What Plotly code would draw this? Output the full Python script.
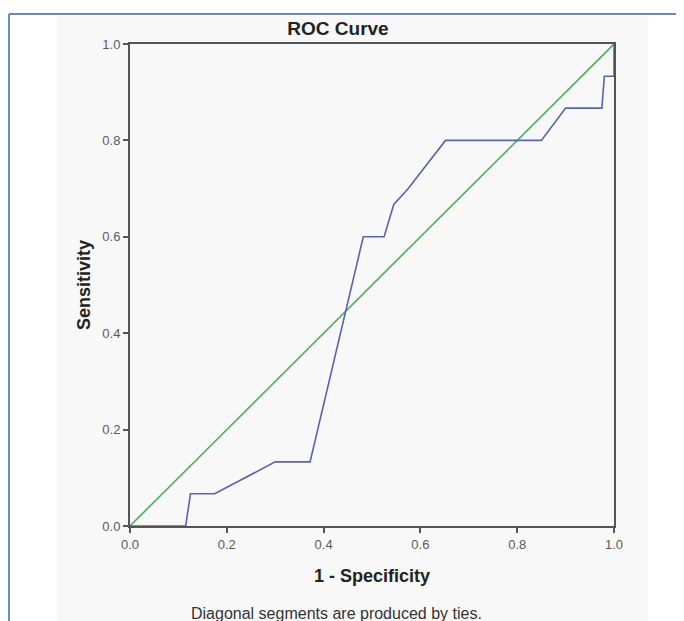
import plotly.graph_objects as go

# ROC curve data (1 - Specificity, Sensitivity)
fpr = [0.0, 0.115, 0.125, 0.175, 0.30, 0.372, 0.482, 0.525, 0.545, 0.575, 0.60, 0.652, 0.85, 0.90, 0.975, 0.98, 1.0, 1.0]
tpr = [0.0, 0.0, 0.067, 0.067, 0.133, 0.133, 0.60, 0.60, 0.667, 0.70, 0.733, 0.80, 0.80, 0.867, 0.867, 0.933, 0.933, 1.0]
ref_x = [0.0, 1.0]
ref_y = [0.0, 1.0]
tick_vals = [0.0, 0.2, 0.4, 0.6, 0.8, 1.0]
tick_text = ["0.0", "0.2", "0.4", "0.6", "0.8", "1.0"]

OFF = 8  # page body margin
W, H = 684 - OFF, 621 - OFF
L, R, T, B = 130, 614, 44, 526  # target positions in window pixels

def px_x(p):
    return (p - L) / (R - L)

def px_y(p):
    return (B - p) / (B - T)

FONT = "Liberation Sans, Arial"

fig = go.Figure()
fig.add_trace(go.Scatter(x=ref_x, y=ref_y, mode="lines",
                         line=dict(color="#4fae5a", width=1.6), hoverinfo="skip"))
fig.add_trace(go.Scatter(x=fpr, y=tpr, mode="lines",
                         line=dict(color="#5a63ad", width=1.6), hoverinfo="skip"))

shapes = [
    dict(type="rect", xref="paper", yref="paper", layer="below",
         x0=px_x(57), x1=px_x(648), y0=px_y(640), y1=px_y(16),
         fillcolor="#f8f8f8", line=dict(width=0)),
    dict(type="line", xref="paper", yref="paper",
         x0=px_x(9), x1=px_x(700), y0=px_y(14), y1=px_y(14),
         line=dict(color="#3b63b5", width=1.5)),
    dict(type="line", xref="paper", yref="paper",
         x0=px_x(9), x1=px_x(9), y0=px_y(14), y1=px_y(640),
         line=dict(color="#3b63b5", width=1.5)),
]

axis_common = dict(range=[0, 1], tickvals=tick_vals, ticktext=tick_text,
                   showgrid=False, zeroline=False, showline=True, mirror=True,
                   linecolor="#555555", linewidth=2, ticks="outside", ticklen=5,
                   tickcolor="#555555", tickwidth=1.5,
                   tickfont=dict(family=FONT, size=13, color="#5a5a5a"))

fig.update_layout(
    width=W, height=H,
    margin=dict(l=L - OFF, r=684 - R, t=T - OFF, b=621 - B),
    paper_bgcolor="white",
    plot_bgcolor="#f2f2f2",
    showlegend=False,
    shapes=shapes,
    title=dict(text="<b>ROC Curve</b>", x=px_x(338), xanchor="center", xref="paper",
               y=1 - (28 - OFF) / H, yanchor="middle",
               font=dict(family=FONT, size=19, color="#222222")),
    xaxis=dict(axis_common, title=dict(text="<b>1 - Specificity</b>", standoff=19,
                                       font=dict(family=FONT, size=18, color="#222222"))),
    yaxis=dict(axis_common, title=dict(text="<b>Sensitivity</b>", standoff=7,
                                       font=dict(family=FONT, size=18, color="#222222"))),
    annotations=[
        dict(text="Diagonal segments are produced by ties.", xref="paper", yref="paper",
             x=px_x(336), y=px_y(613), xanchor="center", yanchor="middle", showarrow=False,
             font=dict(family=FONT, size=16, color="#333333")),
    ],
)

fig.write_html("out.html")
